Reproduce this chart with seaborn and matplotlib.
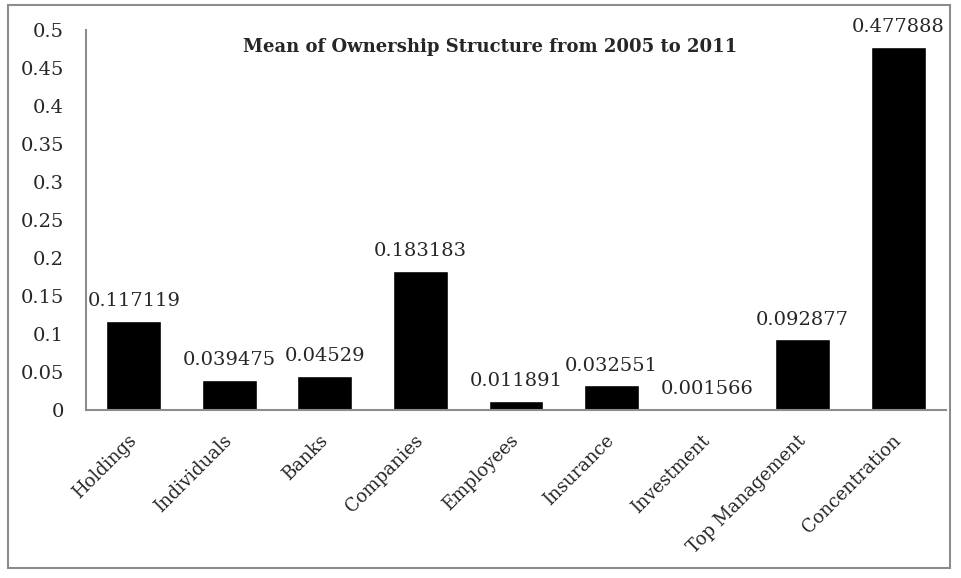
import matplotlib
matplotlib.use("Agg")
import matplotlib.pyplot as plt
import seaborn as sns
import pandas as pd

categories = ["Holdings", "Individuals", "Banks", "Companies", "Employees",
              "Insurance", "Investment", "Top Management", "Concentration"]
means = [0.117119, 0.039475, 0.04529, 0.183183, 0.011891,
         0.032551, 0.001566, 0.092877, 0.477888]
value_labels = ["0.117119", "0.039475", "0.04529", "0.183183", "0.011891",
                "0.032551", "0.001566", "0.092877", "0.477888"]
yticks = [0, 0.05, 0.1, 0.15, 0.2, 0.25, 0.3, 0.35, 0.4, 0.45, 0.5]
ytick_labels = ["0", "0.05", "0.1", "0.15", "0.2", "0.25", "0.3", "0.35", "0.4", "0.45", "0.5"]

df = pd.DataFrame({"category": categories, "mean": means})

sns.set_style("white")
plt.rcParams["font.family"] = ["DejaVu Serif"]

fig = plt.figure(figsize=(9.61, 5.78), dpi=100)
ax = fig.add_axes([86 / 961, 1 - 410 / 578, 860 / 961, 380 / 578])

sns.barplot(data=df, x="category", y="mean", color="black", width=0.575,
            saturation=1, ax=ax)

for i, (v, lab) in enumerate(zip(means, value_labels)):
    ax.text(i, v + 0.014, lab, ha="center", va="bottom", fontsize=14)

ax.set_xlim(-0.5, 8.5)
ax.set_ylim(0, 0.5)
ax.set_yticks(yticks)
ax.set_yticklabels(ytick_labels, fontsize=14)
ax.set_xticks(range(len(categories)))
ax.set_xticklabels(categories, rotation=45, ha="right", va="center",
                   rotation_mode="anchor", fontsize=13)
ax.tick_params(axis="y", length=0, pad=16)
ax.tick_params(axis="x", length=0, pad=20)
ax.set_xlabel("")
ax.set_ylabel("")

for s in ["top", "right"]:
    ax.spines[s].set_visible(False)
for s in ["left", "bottom"]:
    ax.spines[s].set_color("#8c8c8c")
    ax.spines[s].set_linewidth(1.5)

fig.text(490 / 961, 1 - 47 / 578, "Mean of Ownership Structure from 2005 to 2011",
         ha="center", va="center", fontsize=13, fontweight="bold")

border = plt.Rectangle((8 / 961, 1 - 568 / 578), 942 / 961, 563 / 578,
                       transform=fig.transFigure, fill=False,
                       edgecolor="#8c8c8c", linewidth=1.5)
fig.patches.append(border)

fig.savefig("out.png", dpi=100, facecolor="white")
